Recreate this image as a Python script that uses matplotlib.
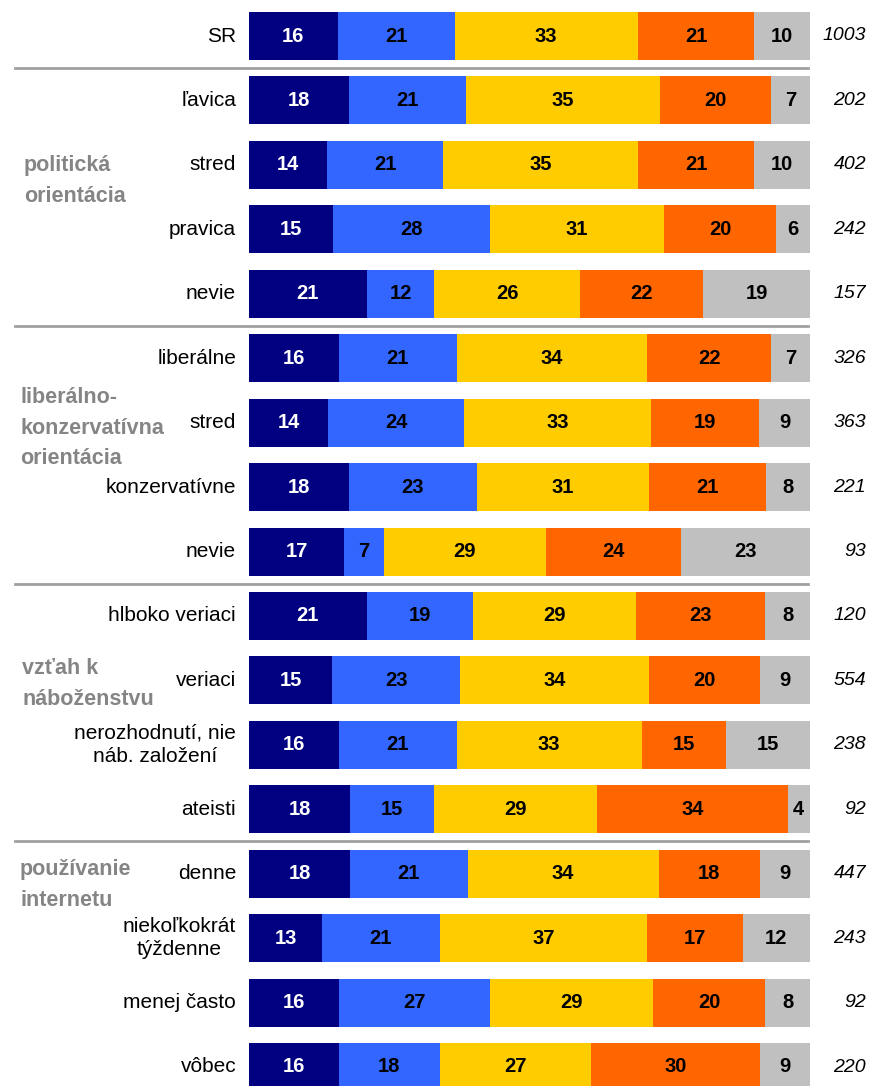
import numpy as np
import matplotlib.pyplot as plt

# DATA --->
labels = ['SR',
          'ľavica', 'stred', 'pravica', 'nevie',
          'liberálne', 'stred', 'konzervatívne', 'nevie',
          'hlboko veriaci', 'veriaci', 'nerozhodnutí, nie\nnáb. založení', 'ateisti',
          'denne', 'niekoľkokrát\ntýždenne', 'menej často', 'vôbec']

s1 = [16, 18, 14, 15, 21, 16, 14, 18, 17, 21, 15, 16, 18, 18, 13, 16, 16]
s2 = [21, 21, 21, 28, 12, 21, 24, 23, 7, 19, 23, 21, 15, 21, 21, 27, 18]
s3 = [33, 35, 35, 31, 26, 34, 33, 31, 29, 29, 34, 33, 29, 34, 37, 29, 27]
s4 = [21, 20, 21, 20, 22, 22, 19, 21, 24, 23, 20, 15, 34, 18, 17, 20, 30]
s5 = [10, 7, 10, 6, 19, 7, 9, 8, 23, 8, 9, 15, 4, 9, 12, 8, 9]

n_resp = [1003, 202, 402, 242, 157, 326, 363, 221, 93,
          120, 554, 238, 92, 447, 243, 92, 220]

groups = ['politická\norientácia', 'liberálno-\nkonzervatívna\norientácia',
          'vzťah k\nnáboženstvu', 'používanie\ninternetu']
# <--- DATA

plt.rcParams['font.family'] = ['Liberation Sans', 'DejaVu Sans']

colors = ['#000080', '#3366FF', '#FFCC00', '#FF6600', '#C0C0C0']
txt_col = ['white', 'black', 'black', 'black', 'black']

W, H = 873, 1086
fig = plt.figure(figsize=(W / 100, H / 100), dpi=100)
ax = fig.add_axes([249 / W, 0, (810 - 249) / W, 1])

pitch = (1067 - 36) / 16.0
ax.set_ylim((H - 36) / pitch, -36 / pitch)
ax.set_xlim(0, 1)
ax.axis('off')

data = np.array([s1, s2, s3, s4, s5], dtype=float)
tot = data.sum(axis=0)
y = np.arange(len(labels))
left = np.zeros(len(labels))
bh = 48 / pitch

for k in range(5):
    w = data[k] / tot
    ax.barh(y, w, left=left, height=bh, color=colors[k], edgecolor='none')
    for i in range(len(labels)):
        ax.text(left[i] + w[i] / 2, y[i], '%d' % data[k][i], ha='center', va='center',
                fontsize=14.5, fontweight='bold', color=txt_col[k])
    left += w

trans = ax.get_yaxis_transform()
for i, lab in enumerate(labels):
    ax.text(-0.023, y[i], lab, transform=trans, ha='right', va='center',
            multialignment='center', fontsize=15, linespacing=1.25)
    ax.text(1.1, y[i], str(n_resp[i]), transform=trans, ha='right', va='center',
            fontsize=14, style='italic')

# separators
for ys in [0.5, 4.5, 8.5, 12.5]:
    ax.plot([(15 - 249) / 561.0, (808 - 249) / 561.0], [ys, ys], transform=trans,
            color='#A0A0A0', lw=2, clip_on=False)

# group labels
gpos = [(24, 181), (20, 428), (22, 684), (20, 885)]
for g, (px, py) in zip(groups, gpos):
    fig.text(px / W, 1 - py / H, g, ha='left', va='center', fontsize=15.5,
             fontweight='bold', color='#858585', linespacing=1.6)

fig.savefig('out.png', dpi=100)
